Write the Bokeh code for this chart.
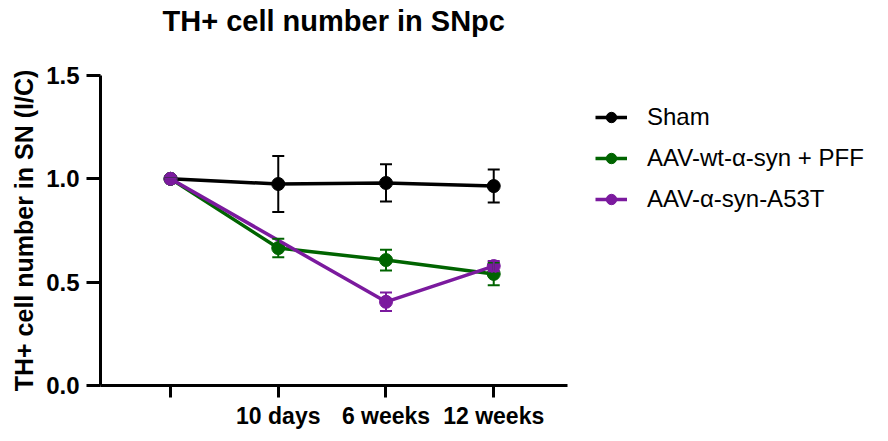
from bokeh.plotting import figure
from bokeh.models import Range1d, FixedTicker, Legend, LegendItem, Whisker, ColumnDataSource, Title
from bokeh.embed import file_html
from bokeh.resources import INLINE

# ---- data ----
tick_labels = ["", "10 days", "6 weeks", "12 weeks"]

sham_x = [0, 1, 2, 3]
sham_y = [1.0, 0.975, 0.98, 0.965]
sham_err = [0.0, 0.135, 0.09, 0.08]

wt_x = [0, 1, 2, 3]
wt_y = [1.0, 0.665, 0.607, 0.54]
wt_err = [0.0, 0.045, 0.05, 0.055]

a53t_x = [0, 2, 3]
a53t_y = [1.0, 0.405, 0.578]
a53t_err = [0.0, 0.045, 0.025]

series = [
    ("Sham", sham_x, sham_y, sham_err, "#000000"),
    ("AAV-wt-\u03b1-syn + PFF", wt_x, wt_y, wt_err, "#006400"),
    ("AAV-\u03b1-syn-A53T", a53t_x, a53t_y, a53t_err, "#7B1A9E"),
]

FONT = "Liberation Sans"

p = figure(width=888, height=441, output_backend="svg", toolbar_location=None,
           x_range=Range1d(-0.65, 6.59), y_range=Range1d(0, 1.5),
           min_border_left=100, min_border_right=8, min_border_top=75, min_border_bottom=56)
p.outline_line_color = None
p.grid.visible = False
p.background_fill_color = "white"

# spacer between the title and the plot area, then the title itself
p.add_layout(Title(text=" ", text_font_size="1px", standoff=36), "above")
p.add_layout(Title(text="TH+ cell number in SNpc", text_font=FONT, text_font_size="29px",
                   text_font_style="bold", text_color="black", align="left", offset=62,
                   standoff=0), "above")

# axes
for ax in (p.xaxis[0], p.yaxis[0]):
    ax.axis_line_width = 3
    ax.major_tick_line_width = 3
    ax.major_tick_in = 0
    ax.minor_tick_line_color = None
    ax.major_label_text_font = FONT
    ax.major_label_text_font_style = "bold"
    ax.major_label_text_color = "black"
    ax.axis_line_color = "black"
    ax.major_tick_line_color = "black"

p.xaxis.bounds = (-0.65, 3.686)
p.xaxis.ticker = FixedTicker(ticks=list(range(len(tick_labels))))
p.xaxis.major_label_overrides = {i: t for i, t in enumerate(tick_labels)}
p.xaxis.major_tick_out = 12
p.xaxis.major_label_standoff = 5
p.xaxis.major_label_text_font_size = "23px"

p.yaxis.ticker = FixedTicker(ticks=[0.0, 0.5, 1.0, 1.5])
p.yaxis.major_label_overrides = {0.0: "0.0", 0.5: "0.5", 1.0: "1.0", 1.5: "1.5"}
p.yaxis.major_tick_out = 14
p.yaxis.major_label_standoff = 7
p.yaxis.major_label_text_font_size = "24px"
p.yaxis.axis_label = "TH+ cell number in SN (I/C)"
p.yaxis.axis_label_text_font = FONT
p.yaxis.axis_label_text_font_style = "bold"
p.yaxis.axis_label_text_font_size = "25px"
p.yaxis.axis_label_text_color = "black"
p.yaxis.axis_label_standoff = 5

items = []
for name, xs, ys, errs, col in series:
    src = ColumnDataSource(dict(x=xs, y=ys,
                                lo=[y - e for y, e in zip(ys, errs)],
                                hi=[y + e for y, e in zip(ys, errs)]))
    w = Whisker(base="x", lower="lo", upper="hi", source=src, line_color=col, line_width=2,
                level="glyph")
    w.upper_head.size = 12
    w.lower_head.size = 12
    w.upper_head.line_color = col
    w.lower_head.line_color = col
    w.upper_head.line_width = 2
    w.lower_head.line_width = 2
    p.add_layout(w)
    l = p.line("x", "y", source=src, line_color=col, line_width=3.5)
    c = p.scatter("x", "y", source=src, size=13, fill_color=col, line_color=col)
    items.append(LegendItem(label=name, renderers=[l, c]))

leg = Legend(items=items, location=(495, 172), padding=0, margin=0,
             border_line_color=None, background_fill_alpha=0,
             label_text_font=FONT, label_text_font_size="24px", label_text_color="black",
             glyph_width=32, glyph_height=26, label_standoff=20, spacing=13)
p.add_layout(leg, "center")

open("out.html", "w").write(file_html(p, INLINE))
